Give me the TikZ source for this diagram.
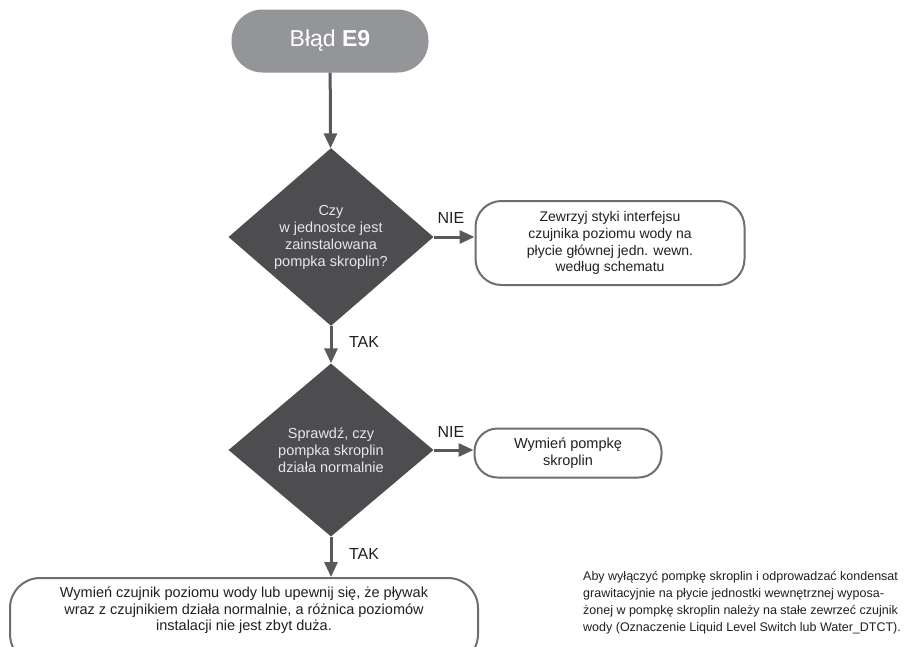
\documentclass[tikz,border=0pt]{standalone}
\usepackage{fontspec}
\setmainfont{Liberation Sans}
\usetikzlibrary{shapes.geometric,arrows.meta}
\definecolor{startgray}{HTML}{939598}
\definecolor{diagray}{HTML}{4D4D4F}
\definecolor{arrowgray}{HTML}{58595B}
\definecolor{boxgray}{HTML}{6D6E71}
\definecolor{txtdark}{HTML}{231F20}
\definecolor{txtlight}{HTML}{E6E7E8}
\tikzset{
  flow/.style={draw=arrowgray, line width=3pt, -{Triangle[length=15pt,width=13pt]}},
  startbox/.style={rectangle, rounded corners=31pt, fill=startgray, text=white,
    minimum width=197pt, minimum height=63pt, inner sep=0pt,
    font=\fontsize{23}{26}\selectfont},
  decision/.style={diamond, fill=diagray, text=txtlight, align=center, inner sep=0pt,
    minimum width=205pt, minimum height=173pt,
    font=\fontsize{14.5}{17}\selectfont},
  actbox/.style={rectangle, draw=boxgray, line width=2pt, text=txtdark, align=center,
    font=\fontsize{14.5}{16.5}\selectfont},
  lbl/.style={text=txtdark, font=\fontsize{16}{18}\selectfont, inner sep=0pt},
  note/.style={text=txtdark, align=left, inner sep=0pt,
    font=\fontsize{12.5}{16.7}\selectfont}
}
\begin{document}
\begin{tikzpicture}[x=1pt,y=-1pt]
\useasboundingbox[fill=white] (0,0) rectangle (904,646);

\node[startbox] (start) at (330,41) {Błąd \textbf{E9}};

\node[decision] (d1) at (331,237) {Czy\\w jednostce jest\\zainstalowana\\pompka skroplin?};

\node[actbox, rounded corners=26pt, minimum width=269pt, minimum height=84pt,
  font=\fontsize{14}{16.8}\selectfont] (b1) at (610,243)
  {Zewrzyj styki interfejsu\\czujnika poziomu wody na\\płycie głównej jedn. wewn.\\według schematu};

\node[decision] (d2) at (331,450) {Sprawdź, czy\\pompka skroplin\\działa normalnie};

\node[actbox, rounded corners=23pt, minimum width=187pt, minimum height=49pt] (b2) at (568,453)
  {Wymień pompkę\\skroplin};

\node[actbox, rounded corners=30pt, minimum width=468pt, inner ysep=9pt, anchor=north,
  font=\fontsize{14.5}{16.5}\selectfont] (b3) at (244,577)
  {Wymień czujnik poziomu wody lub upewnij się, że pływak\\wraz z czujnikiem działa normalnie, a różnica poziomów\\instalacji nie jest zbyt duża.\\[8pt]\mbox{}};

\node[note, anchor=north west] (n1) at (583,571.5)
  {Aby wyłączyć pompkę skroplin i odprowadzać kondensat\\grawitacyjnie na płycie jednostki wewnętrznej wyposa-\\żonej w pompkę skroplin należy na stałe zewrzeć czujnik\\wody (Oznaczenie Liquid Level Switch lub Water\_DTCT).};

\draw[flow] (start) -- (d1);
\draw[flow] (d1.east) -- (d1.east -| b1.west);
\draw[flow] (d1) -- (d2);
\draw[flow] (d2.east) -- (d2.east -| b2.west);
\draw[flow] (d2.south) -- (d2.south |- b3.north);

\node[lbl] (nie1) at (451,218) {NIE};
\node[lbl] (tak1) at (364,342) {TAK};
\node[lbl] (nie2) at (451,432) {NIE};
\node[lbl] (tak2) at (364,554) {TAK};
\end{tikzpicture}
\end{document}
